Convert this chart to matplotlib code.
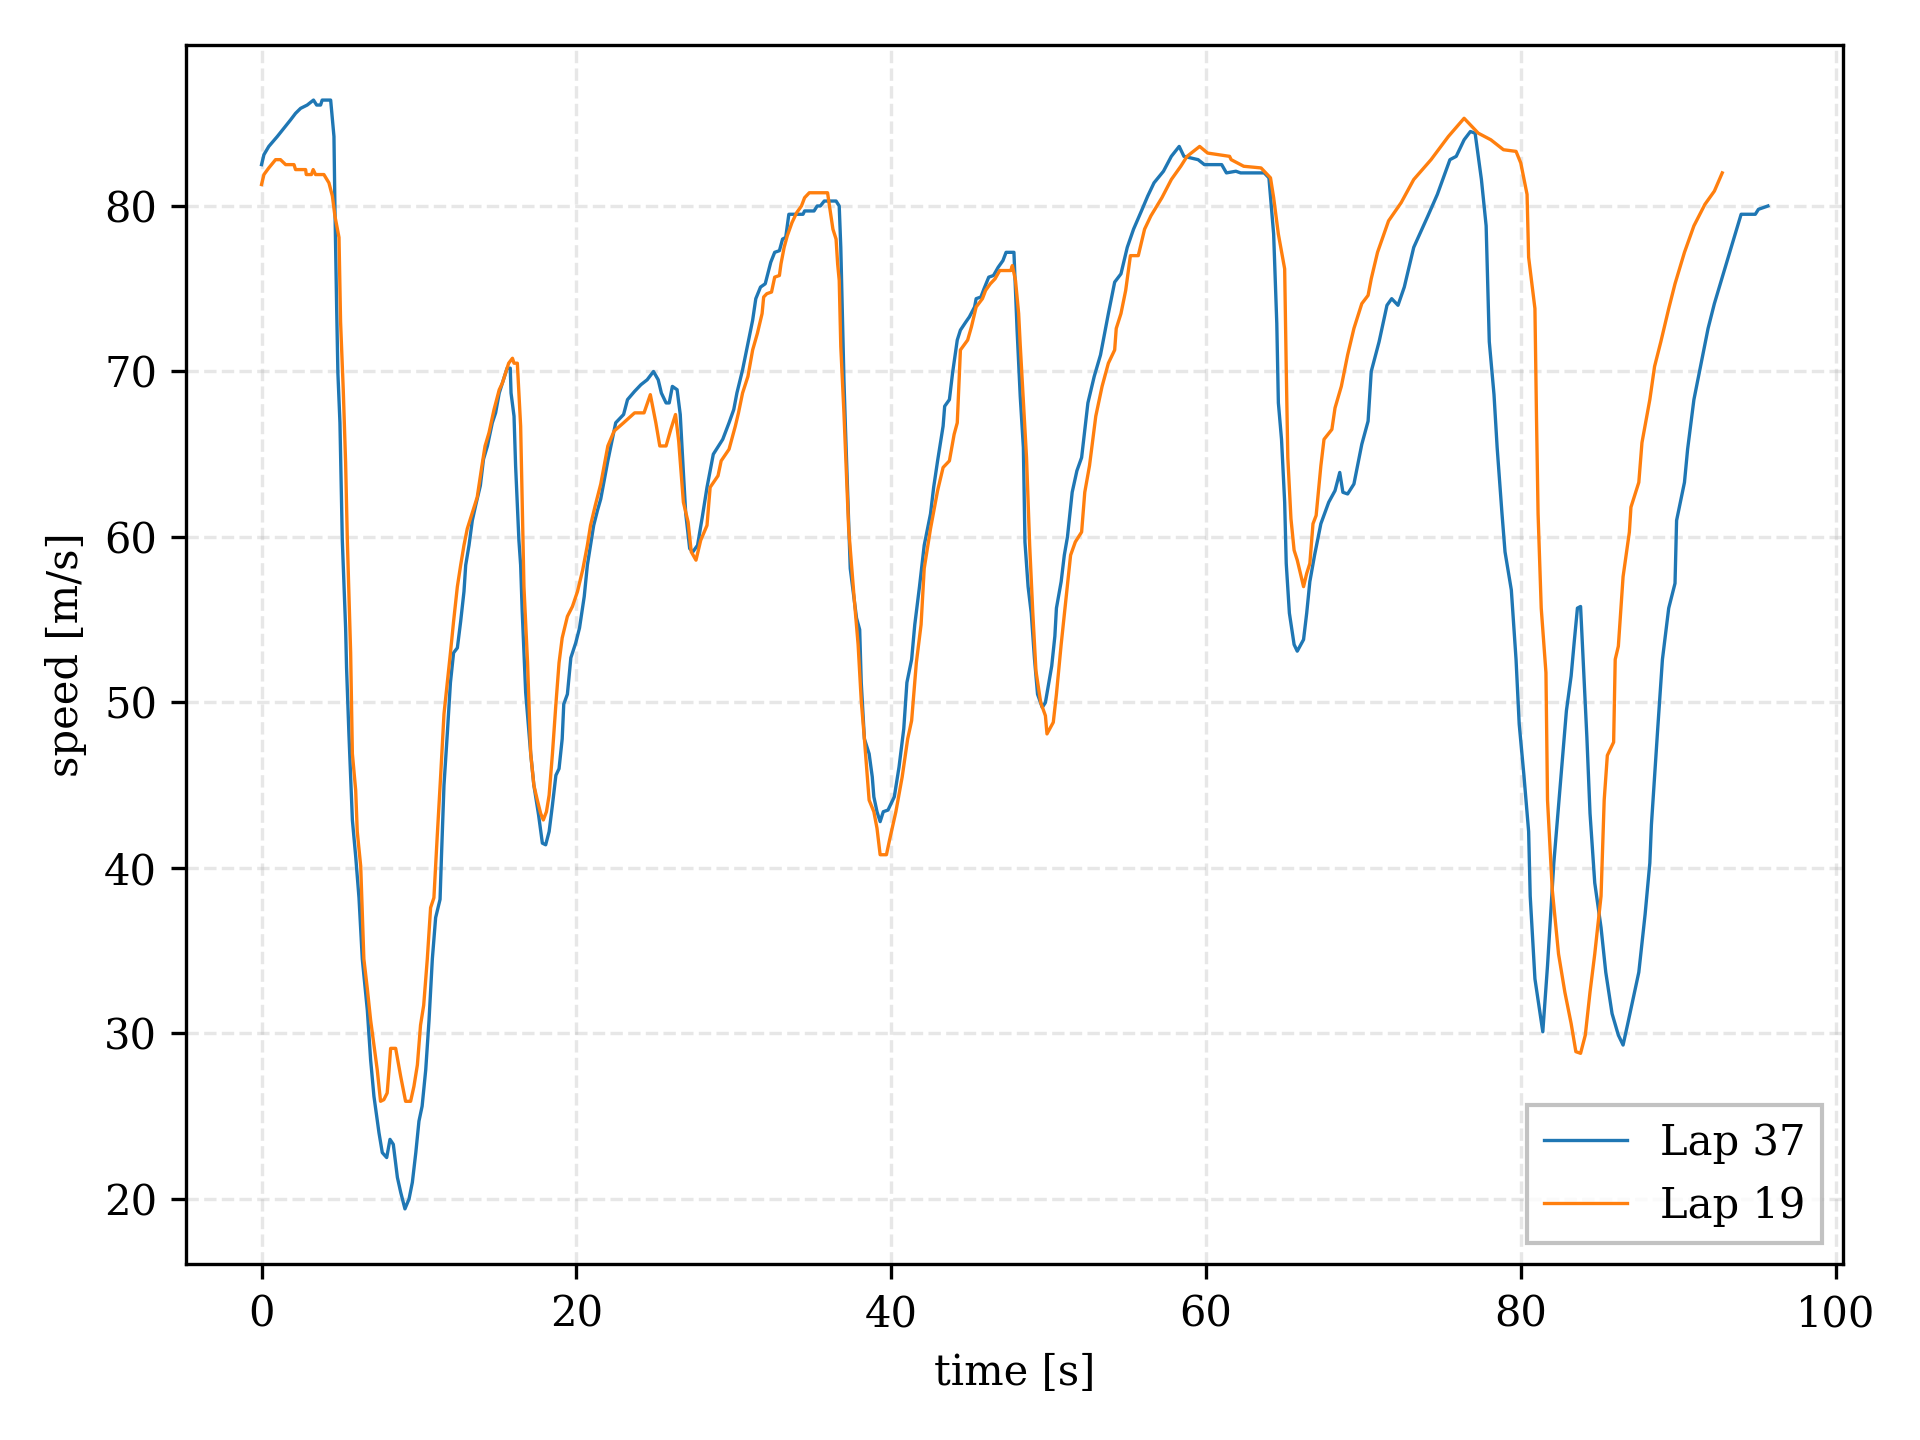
import numpy as np
import matplotlib
matplotlib.use('Agg')
import matplotlib.pyplot as plt

plt.rcParams['font.family'] = 'DejaVu Serif'

# Lap 37 - (time [s], speed [m/s])
lap37_t = [0.0, 0.15, 0.46, 1.0, 1.42, 1.84, 2.16, 2.48, 2.9, 3.3, 3.5, 3.75, 3.85, 4.39,
           4.6, 4.66, 4.77, 4.85, 4.98, 5.13, 5.34, 5.4, 5.55, 5.77, 5.98, 6.19, 6.4, 6.72,
           6.93, 7.14, 7.46, 7.67, 7.95, 8.16, 8.37, 8.63, 8.84, 9.11, 9.37, 9.58, 9.8, 10.0,
           10.2, 10.43, 10.64, 10.85, 11.06, 11.34, 11.43, 11.59, 11.8, 12.0, 12.2, 12.44,
           12.65, 12.86, 12.97, 13.18, 13.39, 13.6, 13.9, 14.1, 14.35, 14.66, 14.87, 15.1,
           15.3, 15.6, 15.8, 15.85, 16.04, 16.14, 16.35, 16.46, 16.56, 16.78, 17.1, 17.3,
           17.6, 17.84, 18.05, 18.27, 18.48, 18.7, 18.9, 19.1, 19.2, 19.43, 19.65, 19.96,
           20.2, 20.5, 20.7, 20.9, 21.1, 21.34, 21.55, 22.0, 22.5, 23.0, 23.25, 23.7, 24.1,
           24.5, 24.9, 25.2, 25.4, 25.7, 25.9, 26.1, 26.4, 26.6, 26.8, 26.95, 27.2, 27.4,
           27.7, 28.0, 28.3, 28.7, 29.3, 29.7, 30.0, 30.2, 30.56, 30.9, 31.2, 31.4, 31.7,
           32.0, 32.35, 32.6, 32.9, 33.1, 33.3, 33.5, 34.4, 34.5, 35.1, 35.3, 35.5, 35.75,
           36.5, 36.7, 36.8, 36.9, 37.0, 37.1, 37.4, 37.8, 38.0, 38.1, 38.3, 38.6, 38.8,
           38.9, 39.1, 39.3, 39.5, 39.8, 40.2, 40.5, 40.8, 41.0, 41.3, 41.5, 41.8, 42.1,
           42.5, 42.7, 42.95, 43.3, 43.4, 43.7, 43.9, 44.2, 44.4, 44.75, 44.97, 45.3, 45.4,
           45.7, 45.9, 46.2, 46.5, 46.8, 47.1, 47.3, 47.8, 48.0, 48.2, 48.4, 48.5, 48.7,
           48.9, 49.1, 49.3, 49.6, 49.8, 50.2, 50.4, 50.5, 50.8, 51.0, 51.2, 51.5, 51.8,
           52.1, 52.5, 52.9, 53.3, 53.8, 54.2, 54.6, 55.0, 55.4, 55.9, 56.3, 56.7, 57.3,
           57.8, 58.3, 58.6, 59.5, 59.9, 61.0, 61.3, 61.9, 62.2, 63.7, 64.0, 64.3, 64.5,
           64.6, 64.8, 65.0, 65.1, 65.3, 65.6, 65.8, 66.2, 66.4, 66.6, 66.9, 67.3, 67.8,
           68.2, 68.5, 68.7, 69.0, 69.4, 69.9, 70.3, 70.5, 71.0, 71.5, 71.8, 72.2, 72.6,
           73.2, 74.1, 74.7, 75.5, 75.9, 76.4, 76.8, 77.1, 77.5, 77.8, 78.0, 78.3, 78.5,
           78.8, 79.0, 79.4, 79.7, 79.9, 80.2, 80.5, 80.6, 80.9, 81.2, 81.4, 81.7, 82.1,
           82.6, 82.9, 83.2, 83.4, 83.6, 83.8, 84.0, 84.2, 84.4, 84.7, 85.1, 85.4, 85.8,
           86.2, 86.5, 86.8, 87.5, 87.9, 88.2, 88.3, 88.7, 89.0, 89.4, 89.8, 89.9, 90.4,
           90.6, 91.0, 91.5, 91.9, 92.3, 92.8, 93.4, 94.0, 94.9, 95.1, 95.7]
lap37_v = [82.5, 83.1, 83.6, 84.2, 84.7, 85.2, 85.6, 85.9, 86.1, 86.4, 86.1, 86.1, 86.4, 86.4,
           84.2, 80.0, 73.9, 69.9, 66.9, 59.8, 54.5, 52.1, 48.1, 42.9, 40.7, 38.2, 34.5, 31.4,
           28.4, 26.2, 24.0, 22.8, 22.5, 23.6, 23.3, 21.3, 20.4, 19.4, 20.0, 21.0, 22.8, 24.7,
           25.6, 27.8, 30.8, 34.5, 37.0, 38.1, 40.7, 45.0, 48.1, 51.2, 53.0, 53.3,
           54.9, 56.7, 58.3, 59.5, 61.0, 61.9, 63.1, 64.7, 65.5, 66.9, 67.5, 68.7,
           69.3, 70.2, 70.2, 68.7, 67.3, 64.3, 59.8, 58.3, 55.5, 50.6, 46.9, 45.0,
           43.2, 41.5, 41.4, 42.2, 43.8, 45.6, 46.0, 47.8, 49.9, 50.5, 52.7, 53.6,
           54.5, 56.4, 58.3, 59.5, 60.7, 61.6, 62.3, 64.6, 66.9, 67.4, 68.3, 68.8, 69.2,
           69.5, 70.0, 69.5, 68.7, 68.1, 68.1, 69.1, 68.9, 67.4, 63.9, 61.4, 59.3, 59.1,
           59.5, 61.2, 63.0, 65.0, 65.9, 66.9, 67.7, 68.7, 70.1, 71.7, 73.1, 74.4, 75.1,
           75.3, 76.6, 77.2, 77.3, 78.0, 78.1, 79.5, 79.5, 79.7, 79.7, 80.0, 80.0, 80.3,
           80.3, 80.0, 77.5, 73.5, 69.5, 66.5, 58.1, 55.1, 54.4, 51.2, 47.8, 46.9, 45.5,
           44.3, 43.4, 42.8, 43.4, 43.5, 44.3, 46.1, 48.4, 51.2, 52.6, 54.7, 57.0, 59.5,
           61.4, 63.0, 64.6, 66.7, 67.9, 68.3, 69.9, 71.9, 72.5, 73.0, 73.3, 73.9, 74.4,
           74.5, 75.0, 75.7, 75.8, 76.3, 76.7, 77.2, 77.2, 72.5, 68.5, 65.4, 59.7, 57.0,
           55.4, 52.7, 50.5, 49.7, 50.0, 52.2, 54.0, 55.7, 57.3, 58.9, 60.0, 62.7, 64.0,
           64.8, 68.1, 69.7, 71.0, 73.5, 75.4, 75.9, 77.5, 78.6, 79.7, 80.6, 81.4, 82.1,
           83.0, 83.6, 83.0, 82.8, 82.5, 82.5, 82.0, 82.1, 82.0, 82.0, 81.7, 78.3, 72.9,
           68.1, 65.9, 62.1, 58.4, 55.4, 53.5, 53.1, 53.8, 55.4, 57.3, 58.9, 60.8, 62.1,
           62.8, 63.9, 62.7, 62.6, 63.2, 65.6, 67.0, 70.0, 71.8, 74.0, 74.4, 74.0, 75.1,
           77.5, 79.4, 80.7, 82.8, 83.0, 84.0, 84.5, 84.4, 81.6, 78.8, 71.8, 68.6, 65.4,
           61.5, 59.1, 56.8, 52.6, 48.7, 45.6, 42.2, 38.3, 33.3, 31.4, 30.1, 34.1, 40.3,
           46.0, 49.5, 51.6, 53.7, 55.7, 55.8, 51.8, 47.9, 43.3, 39.1, 36.4, 33.7, 31.2,
           29.9, 29.3, 30.6, 33.7, 37.2, 40.3, 42.6, 48.4, 52.6, 55.7, 57.2, 61.0, 63.3,
           65.3, 68.3, 70.7, 72.6, 74.1, 75.7, 77.6, 79.5, 79.5, 79.8, 80.0]

# Lap 19
lap19_t = [0.0, 0.15, 0.46, 0.89, 1.2, 1.53, 2.06, 2.16, 2.8, 2.84, 3.17, 3.28, 3.43, 3.96,
           4.28, 4.5, 4.66, 4.92, 5.02, 5.19, 5.34, 5.45, 5.66, 5.77, 5.98, 6.08, 6.3, 6.5,
           6.72, 6.93, 7.14, 7.35, 7.56, 7.77, 7.98, 8.1, 8.2, 8.52, 8.84, 9.15, 9.47, 9.68,
           9.9, 10.1, 10.3, 10.53, 10.74, 10.95, 11.16, 11.38, 11.59, 11.8, 12.0, 12.2,
           12.44, 12.65, 12.86, 13.07, 13.3, 13.5, 13.7, 14.0, 14.2, 14.45, 14.77, 15.1,
           15.3, 15.5, 15.7, 15.94, 16.04, 16.25, 16.46, 16.67, 16.9, 17.1, 17.3, 17.52,
           17.73, 17.9, 18.1, 18.27, 18.48, 18.7, 18.9, 19.1, 19.43, 19.75, 20.07, 20.4,
           20.7, 20.9, 21.2, 21.55, 22.0, 22.4, 23.0, 23.7, 24.3, 24.7, 25.05, 25.3, 25.7,
           26.0, 26.3, 26.5, 26.8, 27.1, 27.3, 27.6, 27.9, 28.3, 28.5, 29.0, 29.2, 29.7,
           30.1, 30.3, 30.56, 30.9, 31.2, 31.5, 31.8, 31.9, 32.1, 32.4, 32.6, 32.9, 33.0,
           33.2, 33.4, 33.7, 34.0, 34.3, 34.5, 34.8, 35.96, 36.05, 36.3, 36.5, 36.6, 36.7,
           36.8, 37.0, 37.3, 37.65, 37.9, 38.1, 38.3, 38.6, 38.9, 39.1, 39.3, 39.7, 39.9,
           40.3, 40.7, 41.05, 41.3, 41.6, 41.9, 42.1, 42.5, 42.95, 43.3, 43.7, 44.0, 44.2,
           44.4, 44.86, 45.1, 45.4, 45.8, 46.0, 46.3, 46.6, 46.9, 47.6, 47.7, 47.9, 48.1,
           48.2, 48.6, 48.8, 49.0, 49.2, 49.5, 49.8, 49.9, 50.3, 50.5, 50.8, 51.1, 51.4,
           51.7, 52.1, 52.3, 52.6, 53.0, 53.4, 53.8, 54.2, 54.3, 54.6, 54.9, 55.2, 55.7,
           56.1, 56.5, 57.2, 57.8, 58.4, 58.8, 59.6, 60.1, 61.5, 61.6, 62.0, 62.4, 63.5,
           64.1, 64.3, 64.6, 65.0, 65.1, 65.2, 65.4, 65.6, 65.8, 66.2, 66.4, 66.6, 66.8,
           67.0, 67.3, 67.5, 68.0, 68.2, 68.6, 69.0, 69.4, 69.9, 70.3, 70.5, 70.9, 71.6,
           72.4, 73.2, 74.3, 75.4, 76.4, 77.3, 78.1, 78.9, 79.7, 80.0, 80.4, 80.5, 80.9,
           81.0, 81.1, 81.3, 81.6, 81.7, 82.0, 82.4, 82.8, 83.2, 83.5, 83.8, 84.1, 84.4,
           84.7, 85.1, 85.3, 85.5, 85.9, 86.0, 86.2, 86.5, 86.9, 87.0, 87.5, 87.7, 88.2,
           88.5, 88.9, 89.4, 89.8, 90.4, 91.0, 91.7, 92.3, 92.8]
lap19_v = [81.3, 81.9, 82.3, 82.8, 82.8, 82.5, 82.5, 82.2, 82.2, 81.9, 81.9, 82.2, 81.9, 81.9,
           81.4, 80.6, 79.4, 78.1, 73.0, 68.9, 64.5, 59.8, 53.0, 46.9, 44.7, 42.2, 40.1, 34.5,
           32.7, 30.8, 29.3, 27.8, 25.9, 26.0, 26.4, 27.8, 29.1, 29.1, 27.4, 25.9, 25.9, 26.8,
           28.1, 30.5, 31.7, 34.5, 37.6, 38.2, 41.9, 45.6, 49.3, 51.2, 53.0, 54.9,
           57.0, 58.3, 59.5, 60.5, 61.2, 61.8, 62.4, 64.3, 65.5, 66.3, 67.7, 68.9,
           69.3, 69.9, 70.5, 70.8, 70.5, 70.5, 66.7, 57.0, 52.4, 46.9, 45.0, 44.1,
           43.3, 42.9, 43.4, 44.4, 46.9, 49.9, 52.4, 53.9, 55.2, 55.8, 56.7, 58.0,
           59.5, 60.7, 61.9, 63.2, 65.5, 66.4, 66.9, 67.5, 67.5, 68.6, 66.9, 65.5, 65.5,
           66.5, 67.4, 65.8, 62.1, 60.9, 59.1, 58.6, 59.8, 60.7, 63.0, 63.7, 64.6, 65.3,
           66.7, 67.5, 68.7, 69.7, 71.3, 72.3, 73.5, 74.5, 74.7, 74.8, 75.7, 75.8, 76.5,
           77.5, 78.2, 79.0, 79.6, 80.0, 80.5, 80.8, 80.8, 80.2, 78.6, 78.0, 76.5, 75.5,
           71.5, 67.5, 60.5, 56.3, 53.5, 50.1, 47.8, 44.1, 43.4, 42.4, 40.8, 40.8, 41.7,
           43.4, 45.5, 47.8, 48.9, 52.4, 54.7, 58.1, 60.5, 62.8, 64.2, 64.6, 66.2, 66.9,
           71.3, 71.9, 72.7, 73.9, 74.4, 74.9, 75.3, 75.6, 76.1, 76.1, 76.4, 75.5, 73.5,
           71.6, 64.8, 59.5, 55.4, 51.9, 50.0, 49.2, 48.1, 48.8, 50.5, 53.5, 56.2, 58.9,
           59.7, 60.3, 62.7, 64.3, 67.3, 69.1, 70.5, 71.3, 72.6, 73.5, 74.9, 77.0, 77.0,
           78.6, 79.4, 80.5, 81.6, 82.4, 83.0, 83.6, 83.2, 83.0, 82.8, 82.6, 82.4, 82.3,
           81.7, 80.5, 78.3, 76.2, 70.2, 64.8, 61.1, 59.2, 58.6, 57.0, 57.8, 58.4, 60.8,
           61.3, 64.3, 65.9, 66.5, 67.8, 69.1, 71.0, 72.6, 74.1, 74.6, 75.6, 77.2, 79.1,
           80.2, 81.6, 82.8, 84.2, 85.3, 84.4, 84.0, 83.4, 83.3, 82.6, 80.7, 76.9, 73.8,
           67.2, 61.4, 55.7, 51.8, 44.1, 38.7, 34.8, 32.5, 30.6, 28.9, 28.8, 29.9, 32.5,
           34.8, 38.3, 44.1, 46.8, 47.6, 52.6, 53.4, 57.6, 60.3, 61.8, 63.3, 65.7, 68.3,
           70.3, 71.8, 73.8, 75.3, 77.2, 78.8, 80.1, 80.9, 82.0]

fig, ax = plt.subplots(figsize=(6.4, 4.8), dpi=300)
ax.plot(lap37_t, lap37_v, color='tab:blue', linewidth=0.8, label='Lap 37')
ax.plot(lap19_t, lap19_v, color='tab:orange', linewidth=0.8, label='Lap 19')
ax.grid(True, linestyle='--', alpha=0.3)
ax.set_xlabel('time [s]')
ax.set_ylabel('speed [m/s]')
ax.legend(loc='lower right', fancybox=False, edgecolor='0.7')
plt.subplots_adjust(left=0.097, right=0.96, top=0.969, bottom=0.122)
plt.savefig('out.png', dpi=300)
